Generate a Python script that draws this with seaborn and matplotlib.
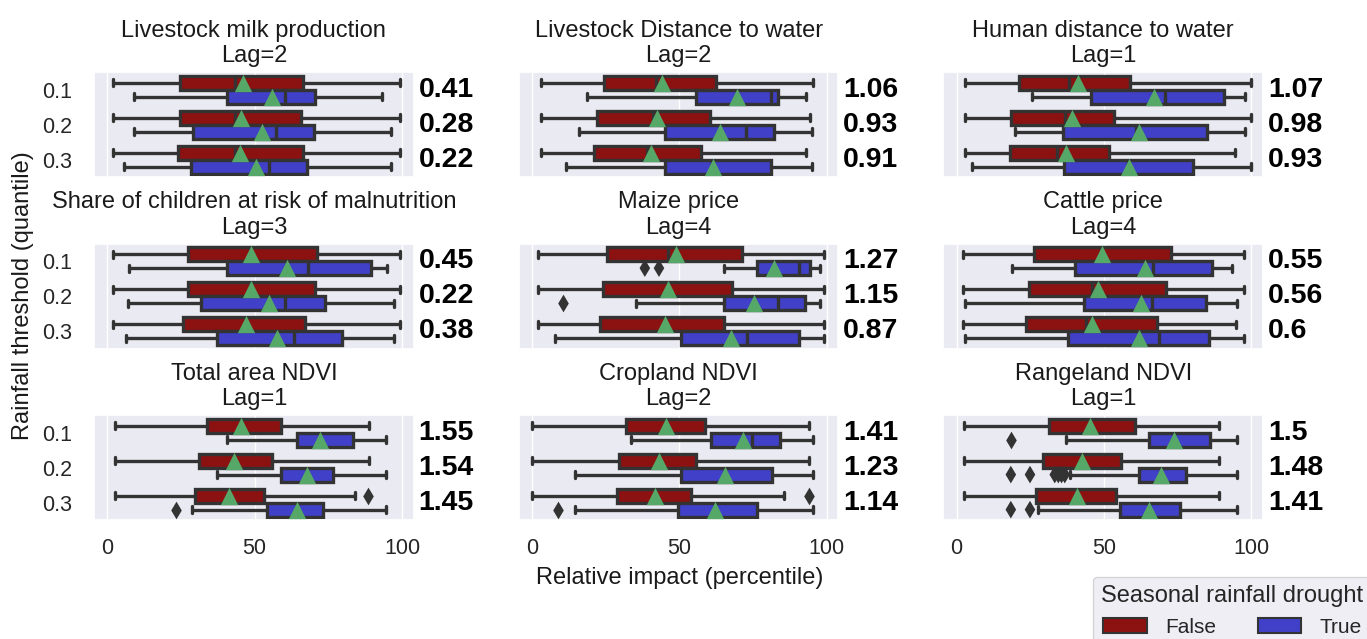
import pandas as pd
import matplotlib.pyplot as plt
from matplotlib.patches import Patch
import seaborn as sns

thresholds = ["0.1", "0.2", "0.3"]
drought_levels = ["False", "True"]

titles = ["Livestock milk production", "Livestock Distance to water", "Human distance to water",
          "Share of children at risk of malnutrition", "Maize price", "Cattle price",
          "Total area NDVI", "Cropland NDVI", "Rangeland NDVI"]
lags = [2, 2, 1, 3, 4, 4, 1, 2, 1]
ratios = [[0.41, 0.28, 0.22], [1.06, 0.93, 0.91], [1.07, 0.98, 0.93],
          [0.45, 0.22, 0.38], [1.27, 1.15, 0.87], [0.55, 0.56, 0.6],
          [1.55, 1.54, 1.45], [1.41, 1.23, 1.14], [1.5, 1.48, 1.41]]

# box values per threshold: whisker low, q1, median, q3, whisker high
milk_false = [[1.9, 24.6, 43.4, 66.4, 99.2], [1.9, 24.5, 43.3, 65.6, 99.2], [1.9, 24.1, 43.3, 66.4, 99.2]]
milk_true = [[9.2, 40.5, 60.2, 70.5, 93.2], [9.2, 29.0, 57.2, 70.1, 96.3], [5.5, 28.3, 54.9, 67.9, 96.3]]
milk_means = [[45.9, 45.3, 45.1], [56.0, 52.6, 50.4]]
milk_fliers = []

lwater_false = [[3.0, 24.5, 42.0, 62.6, 95.3], [3.0, 22.0, 41.0, 60.3, 94.4], [3.0, 20.9, 39.0, 57.4, 92.9]]
lwater_true = [[18.6, 55.8, 81.1, 83.4, 92.9], [15.8, 45.1, 72.6, 82.0, 94.9], [11.5, 45.1, 61.0, 81.2, 94.9]]
lwater_means = [[44.2, 42.3, 40.5], [69.6, 63.9, 61.3]]
lwater_fliers = []

hwater_false = [[3.0, 21.3, 38.2, 59.0, 100.0], [3.0, 18.5, 36.9, 53.5, 100.0], [3.0, 18.2, 34.0, 51.7, 94.6]]
hwater_true = [[25.6, 45.6, 70.6, 90.8, 97.8], [19.9, 36.2, 61.0, 85.0, 97.8], [5.3, 36.5, 58.0, 80.1, 100.0]]
hwater_means = [[41.2, 39.1, 37.1], [67.1, 62.0, 58.4]]
hwater_fliers = []

child_false = [[1.9, 27.3, 48.5, 71.0, 99.2], [1.9, 27.3, 48.5, 70.5, 99.2], [1.9, 25.8, 47.0, 67.1, 99.2]]
child_true = [[7.3, 40.5, 68.2, 89.5, 94.9], [7.0, 31.8, 60.3, 73.8, 97.2], [6.4, 37.1, 63.4, 79.5, 97.2]]
child_means = [[48.9, 48.9, 47.2], [61.1, 54.9, 57.5]]
child_fliers = []

maize_false = [[1.9, 25.3, 46.1, 71.2, 99.2], [1.9, 24.1, 46.0, 68.0, 99.2], [1.9, 23.0, 45.0, 65.2, 99.2]]
maize_true = [[65.2, 76.5, 90.7, 94.4, 97.7], [35.4, 65.2, 83.6, 92.7, 97.7], [7.7, 50.7, 73.1, 90.5, 99.2]]
maize_means = [[48.8, 46.1, 45.0], [82.2, 75.4, 67.5]]
maize_fliers = [("0.1", "True", 38.3), ("0.1", "True", 43.1), ("0.2", "True", 10.5)]

cattle_false = [[2.2, 26.3, 49.0, 72.8, 97.5], [2.2, 24.7, 45.8, 70.9, 97.5], [2.2, 23.5, 43.9, 67.9, 94.7]]
cattle_true = [[18.8, 40.2, 66.6, 86.8, 93.3], [2.7, 43.2, 66.3, 84.6, 95.0], [2.7, 37.9, 68.6, 85.7, 97.5]]
cattle_means = [[49.2, 48.0, 46.1], [63.8, 62.7, 61.8]]
cattle_fliers = []

total_false = [[2.7, 33.7, 45.5, 59.1, 88.7], [2.7, 31.2, 43.1, 55.8, 88.7], [2.7, 29.9, 41.4, 53.2, 84.0]]
total_true = [[40.6, 64.5, 72.0, 83.3, 94.7], [37.1, 59.1, 67.9, 76.7, 94.7], [28.7, 54.1, 64.3, 73.3, 94.7]]
total_means = [[45.5, 43.1, 41.4], [72.0, 67.9, 64.3]]
total_fliers = [("0.3", "False", 88.5), ("0.3", "True", 23.3)]

crop_false = [[0.0, 31.9, 45.4, 58.7, 94.1], [0.0, 29.6, 43.1, 55.8, 94.1], [0.0, 28.7, 41.7, 53.8, 85.4]]
crop_true = [[33.5, 60.7, 74.7, 84.0, 95.3], [14.7, 50.6, 65.5, 81.3, 95.3], [14.7, 49.5, 62.2, 76.3, 95.3]]
crop_means = [[45.4, 43.1, 41.7], [71.6, 65.5, 62.2]]
crop_fliers = [("0.3", "False", 93.9), ("0.3", "True", 8.7)]

range_false = [[2.5, 31.4, 45.2, 60.5, 89.0], [2.5, 29.2, 42.7, 55.9, 89.0], [2.5, 27.1, 40.7, 54.0, 89.0]]
range_true = [[37.1, 65.3, 73.8, 85.9, 95.3], [38.4, 61.8, 69.3, 78.0, 95.3], [27.7, 55.4, 65.2, 75.7, 95.3]]
range_means = [[45.2, 42.7, 40.7], [73.8, 69.3, 65.2]]
range_fliers = [("0.1", "True", 18.4),
                ("0.2", "True", 18.4), ("0.2", "True", 24.9), ("0.2", "True", 33.3),
                ("0.2", "True", 34.5), ("0.2", "True", 35.6), ("0.2", "True", 36.7),
                ("0.3", "True", 18.4), ("0.3", "True", 24.9)]

panels = [(milk_false, milk_true, milk_means, milk_fliers),
          (lwater_false, lwater_true, lwater_means, lwater_fliers),
          (hwater_false, hwater_true, hwater_means, hwater_fliers),
          (child_false, child_true, child_means, child_fliers),
          (maize_false, maize_true, maize_means, maize_fliers),
          (cattle_false, cattle_true, cattle_means, cattle_fliers),
          (total_false, total_true, total_means, total_fliers),
          (crop_false, crop_true, crop_means, crop_fliers),
          (range_false, range_true, range_means, range_fliers)]

RED = "#8c1111"
BLUE = "#4040c8"
GREEN = "#55a868"
LINE = "#333333"

sns.set_theme(style="darkgrid")
plt.rcParams["font.family"] = ["Liberation Sans", "DejaVu Sans"]

fig, axes = plt.subplots(3, 3, figsize=(13.67, 6.39), dpi=100)
fig.subplots_adjust(left=0.0688, right=0.924, top=0.887, bottom=0.186, wspace=0.328, hspace=0.63)

for i, ax in enumerate(axes.flat):
    box_false, box_true, means, fliers = panels[i]

    rows = []
    for t, vals in zip(thresholds, box_false):
        rows += [{"threshold": t, "drought": "False", "value": v} for v in vals]
    for t, vals in zip(thresholds, box_true):
        rows += [{"threshold": t, "drought": "True", "value": v} for v in vals]
    box_df = pd.DataFrame(rows)

    mean_df = pd.DataFrame({"threshold": thresholds * 2,
                            "drought": ["False"] * 3 + ["True"] * 3,
                            "value": means[0] + means[1]})

    sns.boxplot(data=box_df, x="value", y="threshold", hue="drought",
                order=thresholds, hue_order=drought_levels, palette=[RED, BLUE],
                saturation=1, whis=(0, 100), width=0.8, linewidth=2.4,
                linecolor=LINE, showfliers=False, legend=False, ax=ax)

    sns.stripplot(data=mean_df, x="value", y="threshold", hue="drought",
                  order=thresholds, hue_order=drought_levels, palette=[GREEN, GREEN],
                  dodge=True, jitter=False, marker="^", size=12.5, linewidth=0,
                  legend=False, ax=ax, zorder=5)

    if fliers:
        flier_df = pd.DataFrame(fliers, columns=["threshold", "drought", "value"])
        sns.stripplot(data=flier_df, x="value", y="threshold", hue="drought",
                      order=thresholds, hue_order=drought_levels, palette=[LINE, LINE],
                      dodge=True, jitter=False, marker="d", size=9, linewidth=0,
                      legend=False, ax=ax, zorder=5)

    ax.set_xlim(-4.5, 104)
    ax.set_xticks([0, 50, 100])
    ax.set_xlabel("")
    ax.set_ylabel("")
    ax.set_title(f"{titles[i]}\nLag={lags[i]}", fontsize=17, pad=7, color="#1a1a1a")
    ax.tick_params(axis="y", labelsize=15.5, pad=10)
    ax.tick_params(axis="x", labelsize=15.5, pad=7)
    if i % 3 != 0:
        ax.tick_params(labelleft=False)
    if i < 6:
        ax.tick_params(labelbottom=False)

    for k, r in enumerate(ratios[i]):
        ax.text(1.015, k, str(r), transform=ax.get_yaxis_transform(), color="black",
                fontsize=20.5, fontweight="bold", va="center", ha="left")

fig.text(0.017, 0.538, "Rainfall threshold (quantile)", rotation=90,
         ha="center", va="center", fontsize=17, color="#1a1a1a")
fig.text(0.4974, 0.0955, "Relative impact (percentile)", ha="center", va="center",
         fontsize=17, color="#1a1a1a")

handles = [Patch(facecolor=RED, edgecolor=LINE, linewidth=1.5, label="False"),
           Patch(facecolor=BLUE, edgecolor=LINE, linewidth=1.5, label="True")]
fig.legend(handles=handles, title="Seasonal rainfall drought", ncol=2,
           loc="upper left", bbox_to_anchor=(1093 / 1367, 1 - 577 / 639),
           borderaxespad=0, fontsize=15, title_fontsize=17,
           handlelength=2.1, handleheight=0.72, handletextpad=0.85, columnspacing=2.0)

fig.savefig("out.png", dpi=100)
